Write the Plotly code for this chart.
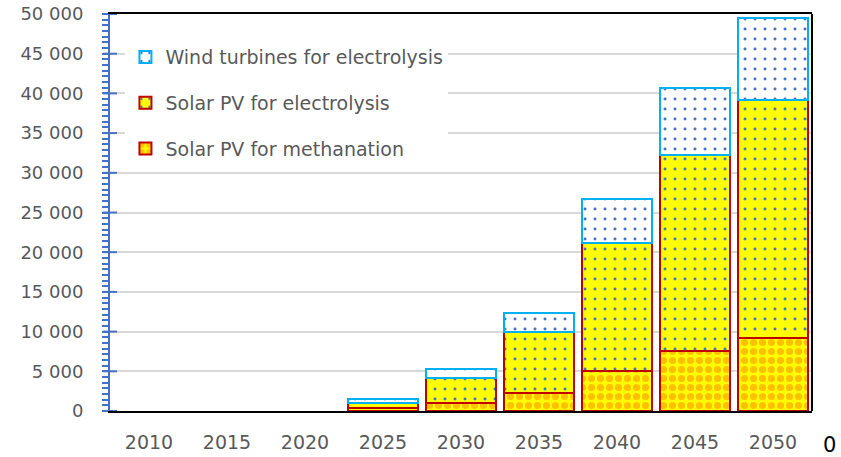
import plotly.graph_objects as go

years = ["2010", "2015", "2020", "2025", "2030", "2035", "2040", "2045", "2050"]
solar_methanation = [0, 0, 0, 350, 1000, 2300, 5000, 7600, 9200]
solar_electrolysis = [0, 0, 0, 700, 3200, 7600, 16200, 24700, 30000]
wind_electrolysis = [0, 0, 0, 450, 1100, 2500, 5500, 8400, 10300]
y_ticks = list(range(0, 50001, 5000))

GRAY = "#595959"
FONT = "DejaVu Sans"
BLUE_DOT = "#4472C4"
AXIS_BLUE = "#4472C4"


def nz(vals):
    # zero-height bars are not drawn (no outline), as in the original
    return [v if v > 0 else None for v in vals]


fig = go.Figure()
fig.add_trace(go.Bar(
    x=years, y=nz(solar_methanation), name="Solar PV for methanation",
    legendgroup="a", legendrank=3,
    marker=dict(color="#FFFF00",
                line=dict(color="#C00000", width=2),
                pattern=dict(shape=".", fgcolor="#FFC000", bgcolor="#FFFF00",
                             size=9, solidity=0.5, fillmode="replace")),
))
fig.add_trace(go.Bar(
    x=years, y=nz(solar_electrolysis), name="Solar PV for electrolysis",
    legendgroup="b", legendrank=2,
    marker=dict(color="#FFFF00",
                line=dict(color="#C00000", width=2),
                pattern=dict(shape=".", fgcolor=BLUE_DOT, bgcolor="#FFFF00",
                             size=10, solidity=0.07, fillmode="replace")),
))
fig.add_trace(go.Bar(
    x=years, y=nz(wind_electrolysis), name="Wind turbines for electrolysis",
    legendgroup="c", legendrank=1,
    marker=dict(color="#FFFFFF",
                line=dict(color="#00B0F0", width=2),
                pattern=dict(shape=".", fgcolor=BLUE_DOT, bgcolor="#FFFFFF",
                             size=10, solidity=0.07, fillmode="replace")),
))

fig.update_layout(
    width=841, height=457,
    barmode="stack", bargap=0.11,
    separators=". ",
    paper_bgcolor="white", plot_bgcolor="white",
    margin=dict(l=110, r=29, t=14, b=46, autoexpand=False),
    font=dict(family=FONT, color=GRAY, size=17),
    showlegend=True,
    legend=dict(x=0.022, y=0.939, xanchor="left", yanchor="top",
                bgcolor="white", borderwidth=0, itemwidth=30,
                traceorder="grouped", tracegroupgap=18,
                font=dict(family=FONT, size=19, color=GRAY)),
    xaxis=dict(showline=True, linecolor="black", linewidth=2, mirror=True,
               ticks="", tickfont=dict(size=19, color=GRAY),
               ticklabelstandoff=13, showgrid=False),
    # value axis: blue line, minor ticks, grid; long transparent major ticks
    # push the labels away from the line as in the original
    yaxis=dict(range=[0, 50000], tickvals=y_ticks, tickformat=",d",
               showline=True, linecolor=AXIS_BLUE, linewidth=2,
               ticks="outside", ticklen=21, tickcolor="rgba(0,0,0,0)",
               showgrid=True, gridcolor="#D9D9D9", gridwidth=1.5,
               zeroline=False, tickfont=dict(size=18, color=GRAY),
               ticklabeloverflow="allow",
               minor=dict(dtick=5000/7, tick0=0, ticks="outside", ticklen=6,
                          tickcolor=AXIS_BLUE, tickwidth=2, showgrid=False)),
)

# crossing major tick marks on the value axis
for v in y_ticks:
    fig.add_shape(type="line", xref="paper", yref="y",
                  x0=-7 / 702, x1=7 / 702, y0=v, y1=v,
                  line=dict(color=AXIS_BLUE, width=2))

# right-hand frame line
fig.add_shape(type="line", xref="paper", yref="paper", x0=1, x1=1, y0=0, y1=1,
              line=dict(color="black", width=2))

fig.add_annotation(text="0", xref="paper", yref="paper", x=1.0256, y=-0.0856,
                   xanchor="center", yanchor="middle", showarrow=False,
                   font=dict(family=FONT, size=21, color="black"))

# remove the browser's default 8px body margin so the 841x457 figure fills the window
fig.write_html("out.html",
               config={"displayModeBar": False},
               post_script="document.body.style.margin='0';document.body.style.overflow='hidden';")
